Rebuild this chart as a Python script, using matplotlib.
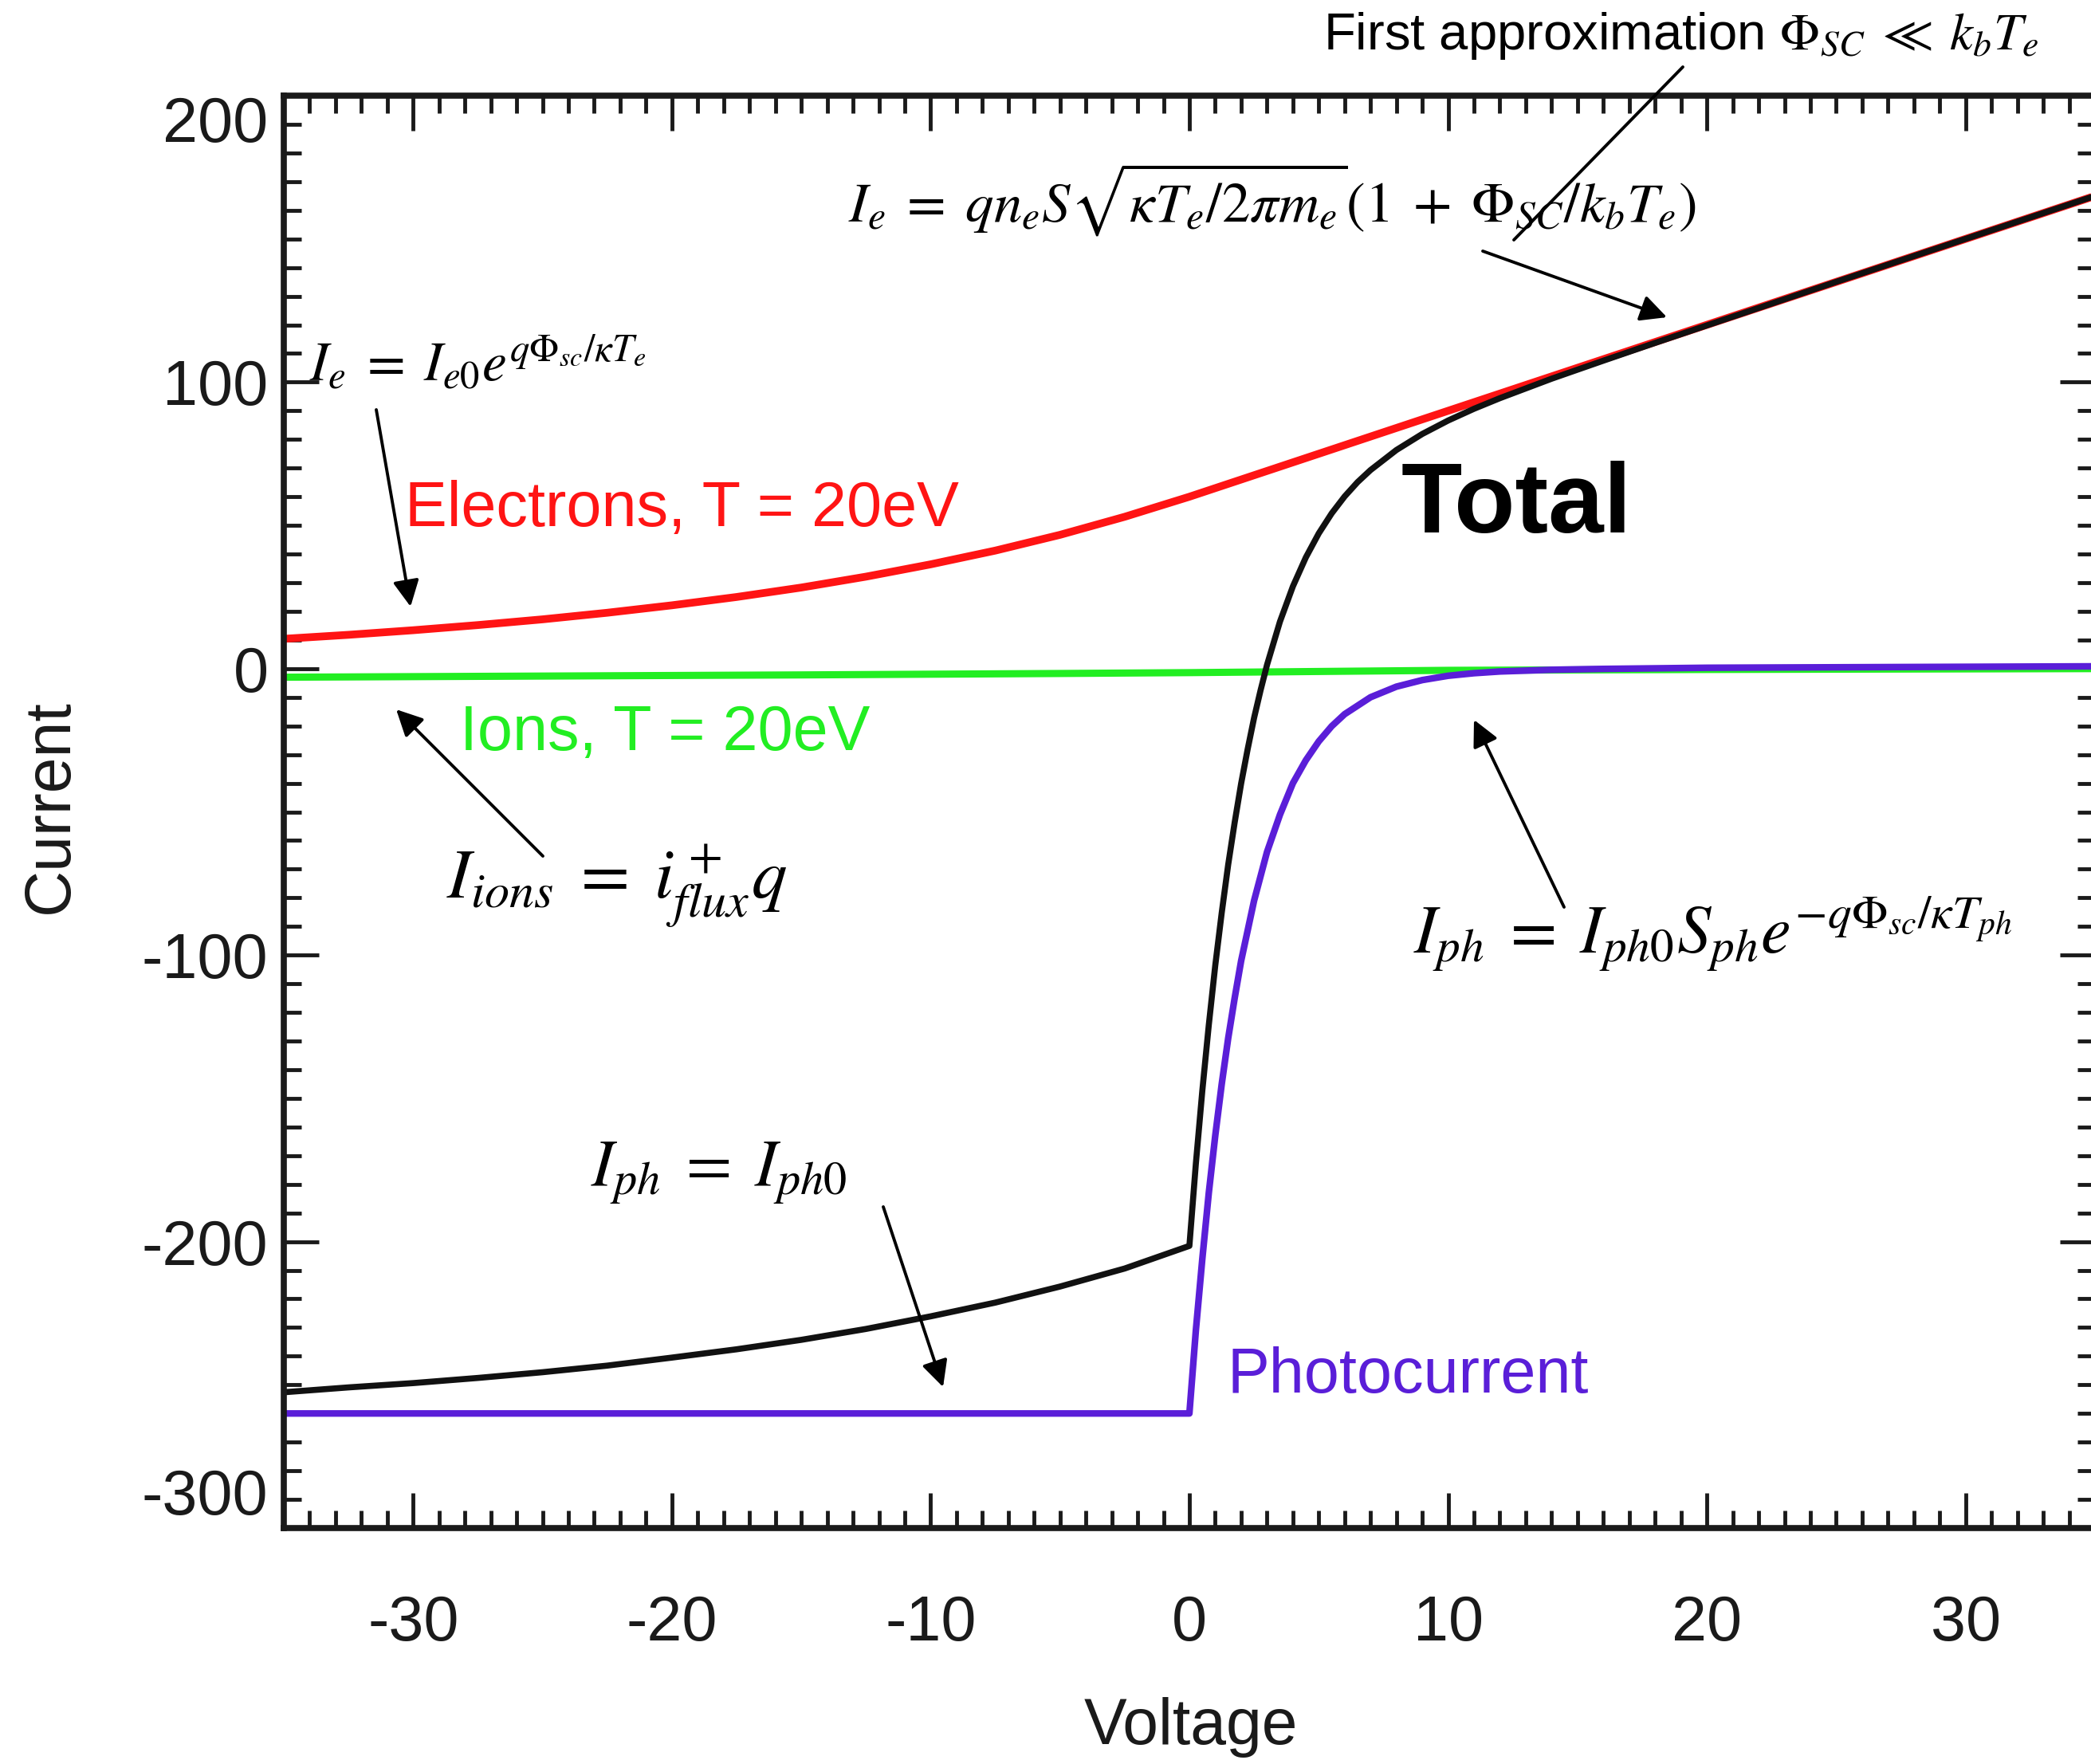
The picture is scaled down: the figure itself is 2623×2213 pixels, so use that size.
import matplotlib
matplotlib.use("Agg")
import matplotlib.pyplot as plt
from matplotlib.ticker import MultipleLocator

# values
volt_e = [-35, -32.5, -30, -27.5, -25, -22.5, -20, -17.5, -15, -12.5, -10, -7.5, -5, -2.5,
          0, 5, 10, 15, 20, 25, 30, 35]
cur_e = [10.4, 11.8, 13.4, 15.2, 17.2, 19.5, 22.1, 25.0, 28.3, 32.1, 36.4, 41.2, 46.7, 53.0,
         60, 75, 90, 105, 120, 135, 150, 165]

volt_ion = [-35, -25, -15, -5, 0, 5, 10, 20, 35]
cur_ion = [-3.0, -2.6, -2.2, -1.7, -1.4, -1.0, -0.6, -0.3, 0.0]

volt_ph = [-35, 0, 0.25, 0.5, 0.75, 1, 1.25, 1.5, 1.75, 2, 2.5, 3, 3.5, 4, 4.5, 5, 5.5, 6,
           7, 8, 9, 10, 11, 12, 14, 16, 20, 35]
cur_ph = [-260, -260, -231, -206, -183, -163, -145, -129, -115, -102, -81, -64, -51, -40,
          -32, -25.4, -20.1, -15.9, -10, -6.3, -4, -2.5, -1.6, -1, -0.4, -0.1, 0.3, 0.8]

volt_tot = [-35, -32.5, -30, -27.5, -25, -22.5, -20, -17.5, -15, -12.5, -10, -7.5, -5, -2.5,
            0, 0.25, 0.5, 0.75, 1, 1.25, 1.5, 1.75, 2, 2.25, 2.5, 2.75, 3, 3.5, 4, 4.5, 5,
            5.5, 6, 6.5, 7, 8, 9, 10, 11, 12, 14, 16, 18, 20, 25, 30, 35]
cur_tot = [-252.6, -250.9, -249.4, -247.6, -245.6, -243.3, -240.5, -237.6, -234.3, -230.5,
           -226.1, -221.3, -215.7, -209.4, -201.5, -172.8, -147.3, -124.4, -103.6, -85.2,
           -68.4, -53.7, -40.1, -28.2, -17.2, -7.6, 1.3, 16.4, 28.7, 38.8, 47.2, 54.2, 60.1,
           65.1, 69.3, 76.3, 81.9, 86.6, 90.7, 94.4, 101.2, 107.5, 113.7, 119.8, 135, 150,
           165]

x_ticks = [-30, -20, -10, 0, 10, 20, 30]
y_ticks = [-300, -200, -100, 0, 100, 200]

W, H = 2623, 2213
plt.rcParams['mathtext.fontset'] = 'stix'
plt.rcParams['axes.unicode_minus'] = False
plt.rcParams['font.family'] = ['Liberation Sans', 'DejaVu Sans']


def fp(x, y):
    # pixel position (from top-left) -> figure fraction
    return (x / W, 1 - y / H)


fig = plt.figure(figsize=(W / 100, H / 100), dpi=100)
ax = fig.add_axes([356 / W, (H - 1917) / H, 2272 / W, (1917 - 120) / H])

ax.plot(volt_ion, cur_ion, color='#22ee22', lw=6.5, solid_capstyle='butt')
ax.plot(volt_e, cur_e, color='#ff1414', lw=7, solid_capstyle='butt')
ax.plot(volt_ph, cur_ph, color='#5a1ed8', lw=6, solid_capstyle='butt')
ax.plot(volt_tot, cur_tot, color='#111111', lw=5.5, solid_capstyle='butt')

ax.set_xlim(-35, 35)
ax.set_ylim(-300, 200)
ax.set_xticks(x_ticks)
ax.set_yticks(y_ticks)
ax.xaxis.set_minor_locator(MultipleLocator(1))
ax.yaxis.set_minor_locator(MultipleLocator(10))
ax.tick_params(which='both', direction='in', top=True, right=True, color='#1a1a1a')
ax.tick_params(which='major', length=32, width=3.5, labelsize=57, labelcolor='#1a1a1a')
ax.tick_params(which='minor', length=16, width=3.5)
ax.tick_params(axis='x', which='major', pad=60)
ax.tick_params(axis='y', which='major', pad=14)
for sp in ax.spines.values():
    sp.set_linewidth(5.5)
    sp.set_color('#1a1a1a')

ylabs = ax.get_yticklabels()
ylabs[0].set_va('bottom')
ylabs[-1].set_va('top')

fig.text(*fp(1494, 2167), 'Voltage', fontsize=58, color='#1a1a1a', ha='center', va='center')
fig.text(*fp(64, 1012), 'Current', fontsize=58, color='#1a1a1a', ha='center', va='center',
         rotation=90)

# curve labels
fig.text(*fp(508, 640), 'Electrons, T = 20eV', fontsize=57, color='#ff1414', va='center')
fig.text(*fp(577, 920), 'Ions, T = 20eV', fontsize=57, color='#22ee22', va='center')
fig.text(*fp(1539, 1727), 'Photocurrent', fontsize=57, color='#5a1ed8', va='center')
fig.text(*fp(1758, 636), 'Total', fontsize=90, fontweight='bold', color='black', va='center')

# equations
fig.text(*fp(1660, 45), r'First approximation $\Phi_{SC}\;\ll\;k_bT_e$', fontsize=47,
         va='center')
fig.text(*fp(1064, 251),
         r'$I_e\;=\;qn_eS\sqrt{\kappa T_e/2\pi m_e}(1\;+\;\Phi_{SC}/k_bT_e)$',
         fontsize=51, va='center')
fig.text(*fp(388, 455), r'$I_e\;=\;I_{e0}e^{q\Phi_{sc}/\kappa T_e}$', fontsize=50,
         va='center')
fig.text(*fp(560, 1112), r'$I_{ions}\;=\;i^+_{flux}q$', fontsize=64, va='center')
fig.text(*fp(1773, 1171), r'$I_{ph}\;=\;I_{ph0}S_{ph}e^{-q\Phi_{sc}/\kappa T_{ph}}$',
         fontsize=61, va='center')
fig.text(*fp(741, 1472), r'$I_{ph}\;=\;I_{ph0}$', fontsize=60, va='center')

# pointer lines
arrows = [
    ((2111, 84), (1899, 301), '-'),
    ((1860, 315), (2091, 398), '-|>'),
    ((472, 514), (515, 761), '-|>'),
    ((681, 1074), (497, 890), '-|>'),
    ((1962, 1138), (1849, 903), '-|>'),
    ((1108, 1514), (1183, 1740), '-|>'),
]
for start, end, style in arrows:
    ax.annotate('', xy=fp(*end), xytext=fp(*start), xycoords='figure fraction',
                textcoords='figure fraction',
                arrowprops=dict(arrowstyle=style, color='black', lw=2.8,
                                mutation_scale=50, shrinkA=0, shrinkB=0))

fig.savefig('out.png', dpi=100)
